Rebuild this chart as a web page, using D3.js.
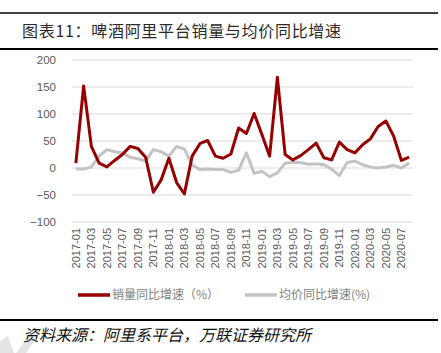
<!DOCTYPE html>
<html>
<head>
<meta charset="utf-8">
<script src="https://cdn.jsdelivr.net/npm/d3@7"></script>
<style>
  html, body { margin: 0; padding: 0; background: #fff; }
  svg { display: block; font-family: "Liberation Sans", Arial, "Noto Sans CJK SC", sans-serif; }
</style>
</head>
<body>
<div id="chart"></div>
<script>
const months = [];
for (let y = 2017; y <= 2020; y++) {
  for (let m = 1; m <= 12; m++) {
    if (y === 2020 && m > 8) break;
    months.push(`${y}-${String(m).padStart(2, '0')}`);
  }
}

// 销量同比增速 (%)
const volumeYoY = [
  9, 152, 40, 9, 2, 14, 25, 40, 36, 20,
  -45, -22, 18, -27, -48, 22, 45, 51, 22, 18,
  26, 74, 64, 101, 62, 22, 168, 25, 15, 23,
  34, 46, 19, 15, 48, 34, 28, 43, 54, 77,
  87, 59, 14, 20
];

// 均价同比增速 (%)
const priceYoY = [
  -2, -2, 2, 22, 34, 30, 28, 20, 17, 13,
  34, 30, 22, 40, 35, 6, -3, -2, -3, -3,
  -8, -4, 28, -10, -6, -16, -9, 9, 10, 10,
  7, 8, 6, -2, -14, 10, 13, 6, 2, 0,
  2, 5, 0, 9
];

const yTicks = [-100, -50, 0, 50, 100, 150, 200];

const width = 441;
const height = 353;
const plot = { left: 72, right: 413, top: 60, bottom: 222 };

const svg = d3.select('#chart').append('svg')
  .attr('width', width)
  .attr('height', height);

// header rules + title
svg.append('line').attr('x1', 0).attr('x2', 438).attr('y1', 13).attr('y2', 13)
  .attr('stroke', '#000').attr('stroke-width', 1.5);
svg.append('line').attr('x1', 0).attr('x2', 438).attr('y1', 49).attr('y2', 49)
  .attr('stroke', '#000').attr('stroke-width', 2);
svg.append('text')
  .attr('x', 22).attr('y', 37)
  .attr('font-family', '"Noto Sans CJK SC", sans-serif')
  .attr('font-size', 16)
  .attr('letter-spacing', 0.7)
  .attr('fill', '#2a2a2a')
  .text('图表11：啤酒阿里平台销量与均价同比增速');

const x = d3.scaleBand()
  .domain(months)
  .range([plot.left, plot.right]);

const y = d3.scaleLinear()
  .domain([-100, 200])
  .range([plot.bottom, plot.top]);

// grid
svg.append('g')
  .selectAll('line')
  .data(yTicks)
  .join('line')
  .attr('x1', plot.left).attr('x2', plot.right)
  .attr('y1', d => y(d)).attr('y2', d => y(d))
  .attr('stroke', '#d9d9d9')
  .attr('stroke-width', 1);

// y axis labels
const yAxis = svg.append('g')
  .attr('transform', `translate(${plot.left},0)`)
  .call(d3.axisLeft(y).tickValues(yTicks).tickSize(0).tickPadding(16)
    .tickFormat(d => d < 0 ? '\u2212' + Math.abs(d) : d));
yAxis.select('.domain').remove();
yAxis.selectAll('text')
  .attr('font-size', 11.5)
  .attr('fill', '#595959')
  .attr('font-family', '"Liberation Sans", Arial, sans-serif');

// x axis labels
const xAxis = svg.append('g')
  .attr('transform', `translate(0,${plot.bottom})`)
  .call(d3.axisBottom(x).tickValues(months.filter((d, i) => i % 2 === 0)).tickSize(0));
xAxis.select('.domain').remove();
xAxis.selectAll('text')
  .attr('font-size', 11)
  .attr('fill', '#595959')
  .attr('font-family', '"Liberation Sans", Arial, sans-serif')
  .attr('text-anchor', 'end')
  .attr('transform', 'rotate(-90)')
  .attr('x', -6)
  .attr('y', 0)
  .attr('dy', '0.35em');

const line = d3.line()
  .x((d, i) => x(months[i]) + x.bandwidth() / 2)
  .y(d => y(d));

svg.append('path')
  .datum(priceYoY)
  .attr('fill', 'none')
  .attr('stroke', '#c3c3c3')
  .attr('stroke-width', 3)
  .attr('stroke-linejoin', 'round')
  .attr('d', line);

svg.append('path')
  .datum(volumeYoY)
  .attr('fill', 'none')
  .attr('stroke', '#960000')
  .attr('stroke-width', 3)
  .attr('stroke-linejoin', 'round')
  .attr('d', line);

// legend
const legend = [
  { label: '销量同比增速（%）', color: '#960000', x: 78 },
  { label: '均价同比增速(%)', color: '#c3c3c3', x: 245 }
];
const lg = svg.append('g').selectAll('g').data(legend).join('g')
  .attr('transform', d => `translate(${d.x},295)`);
lg.append('line')
  .attr('x1', 0).attr('x2', 32).attr('y1', 0).attr('y2', 0)
  .attr('stroke', d => d.color).attr('stroke-width', 3.5);
lg.append('text')
  .attr('x', 34).attr('y', 0).attr('dy', '0.35em')
  .attr('font-size', 12)
  .attr('fill', '#7f7f7f')
  .attr('font-family', '"Noto Sans CJK SC", sans-serif')
  .text(d => d.label);

// footer
svg.append('line').attr('x1', 0).attr('x2', 438).attr('y1', 320).attr('y2', 320)
  .attr('stroke', '#000').attr('stroke-width', 2);

// faint watermark fragment
svg.append('path')
  .attr('d', 'M0,342 L8,336 L14,353 L0,353 Z M16,353 L30,334 L36,338 L26,353 Z')
  .attr('fill', '#e3e3e3');

svg.append('text')
  .attr('x', 23).attr('y', 341)
  .attr('font-size', 16)
  .attr('font-style', 'italic')
  .attr('fill', '#111')
  .attr('font-family', '"Noto Sans CJK SC", sans-serif')
  .text('资料来源：阿里系平台，万联证券研究所');
</script>
</body>
</html>
